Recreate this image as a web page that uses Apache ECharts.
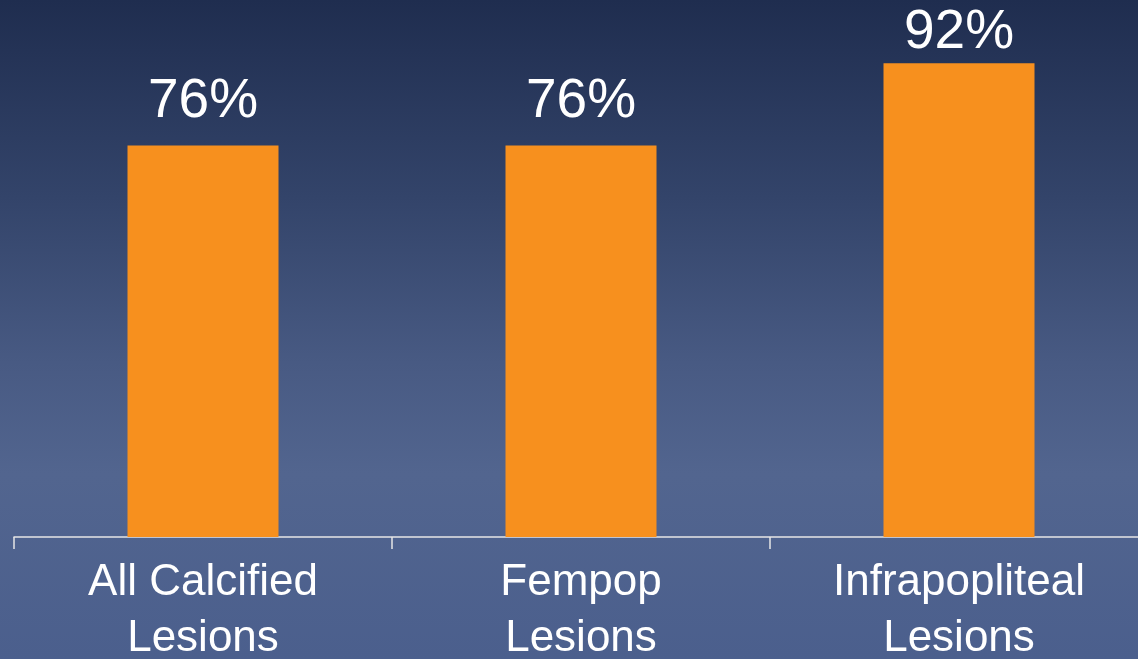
<!DOCTYPE html>
<html>
<head>
<meta charset="utf-8">
<script src="https://cdn.jsdelivr.net/npm/echarts@6/dist/echarts.min.js"></script>
<style>
  html, body { margin: 0; padding: 0; }
  #chart { width: 1138px; height: 659px; }
</style>
</head>
<body>
<div id="chart"></div>
<script>
// Share of lesions, by lesion group
const categories = ['All Calcified\nLesions', 'Fempop\nLesions', 'Infrapopliteal\nLesions'];
const values = [76, 76, 92];

// gap between each value label and its bar top
const labelGap = [16, 16, 2];

const chart = echarts.init(document.getElementById('chart'));

chart.setOption({
  backgroundColor: {
    type: 'linear', x: 0, y: 0, x2: 0, y2: 1,
    colorStops: [
      { offset: 0, color: '#1f2d4f' },
      { offset: 0.3, color: '#33446a' },
      { offset: 0.55, color: '#485a83' },
      { offset: 0.72, color: '#52658f' },
      { offset: 1, color: '#4b5f8d' }
    ]
  },
  animation: false,
  grid: {
    left: 14, top: 22, bottom: 122, width: 1134,
    containLabel: false,
    outerBoundsMode: 'none'
  },
  xAxis: {
    type: 'category',
    data: categories,
    axisLine: { show: true, lineStyle: { color: '#e6e6e6', width: 1.5 } },
    axisTick: { show: true, length: 12, alignWithLabel: false, lineStyle: { color: '#e6e6e6', width: 1.5 } },
    axisLabel: {
      color: '#ffffff',
      fontFamily: 'Liberation Sans, Arial, sans-serif',
      fontSize: 44,
      lineHeight: 56,
      margin: 18,
      interval: 0
    }
  },
  yAxis: {
    type: 'value', min: 0, max: 100, show: false,
    splitLine: { show: false }
  },
  series: [{
    type: 'bar',
    barWidth: 151,
    itemStyle: { color: '#f7901e' },
    data: values.map((v, i) => ({
      value: v,
      label: { distance: labelGap[i] }
    })),
    label: {
      show: true,
      position: 'top',
      color: '#ffffff',
      fontFamily: 'Liberation Sans, Arial, sans-serif',
      fontSize: 55,
      lineHeight: 56,
      formatter: p => p.value + '%'
    }
  }]
});
</script>
</body>
</html>
